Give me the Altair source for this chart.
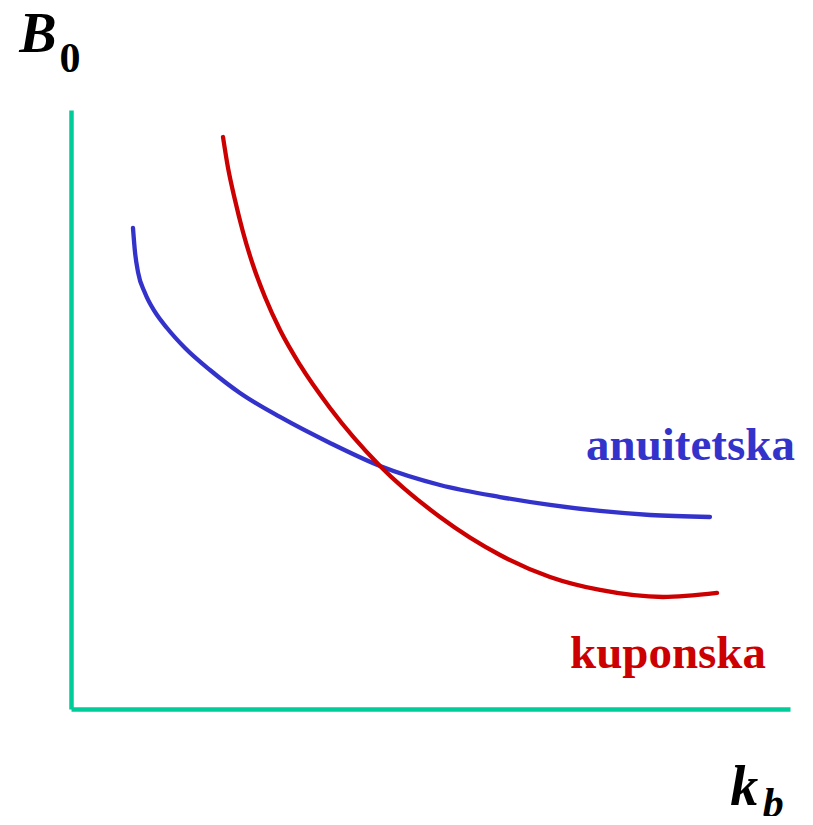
import altair as alt
import pandas as pd

# Curve values (abstract units: k_b on x, B0 on y)
anu_x = [0.862, 0.890, 0.932, 1.029, 1.168, 1.335, 1.586, 1.933, 2.350, 2.907,
         3.602, 4.298, 5.132, 5.967, 6.662, 7.357, 8.053, 8.887]
anu_y = [8.030, 7.629, 7.295, 6.945, 6.628, 6.361, 6.027, 5.659, 5.275, 4.875,
         4.441, 4.057, 3.740, 3.539, 3.406, 3.306, 3.239, 3.205]

kup_x = [2.114, 2.184, 2.281, 2.392, 2.531, 2.698, 2.907, 3.185, 3.602, 4.298,
         5.132, 5.967, 6.662, 7.357, 8.234, 8.985]
kup_y = [9.549, 9.032, 8.497, 7.963, 7.412, 6.878, 6.327, 5.743, 5.025, 4.057,
         3.205, 2.571, 2.204, 1.987, 1.870, 1.937]

series_names = ["anuitetska", "kuponska"]
series_colors = ["#3333CC", "#CC0000"]
axis_color = "#00CC99"

rows = []
for i, (x, y) in enumerate(zip(anu_x, anu_y)):
    rows.append({"x": x, "y": y, "s": series_names[0], "o": i})
for i, (x, y) in enumerate(zip(kup_x, kup_y)):
    rows.append({"x": x, "y": y, "s": series_names[1], "o": i})
df = pd.DataFrame(rows)

xs = alt.Scale(domain=[0, 10], nice=False, zero=False)
ys = alt.Scale(domain=[0, 10], nice=False, zero=False)

ax_x = alt.Axis(title=None, labels=False, ticks=False, grid=False,
                domainColor=axis_color, domainWidth=4.5)
ax_y = alt.Axis(title=None, labels=False, ticks=False, grid=False,
                domainColor=axis_color, domainWidth=4.5)

lines = alt.Chart(df).mark_line(strokeWidth=4.3, strokeCap="round",
                                interpolate="monotone", clip=False).encode(
    x=alt.X("x:Q", scale=xs, axis=ax_x),
    y=alt.Y("y:Q", scale=ys, axis=ax_y),
    color=alt.Color("s:N", scale=alt.Scale(domain=series_names, range=series_colors), legend=None),
    order="o:Q",
    detail="s:N",
)

# Series labels
lab_df = pd.DataFrame({
    "x": [7.163, 6.94],
    "y": [4.157, 0.684],
    "t": series_names,
})
labels = alt.Chart(lab_df).mark_text(
    font="Liberation Serif", fontWeight="bold", fontSize=47,
    align="left", baseline="alphabetic", clip=False,
).encode(
    x=alt.X("x:Q", scale=xs), y=alt.Y("y:Q", scale=ys), text="t:N",
    color=alt.Color("t:N", scale=alt.Scale(domain=series_names, range=series_colors), legend=None),
)

# Axis titles: main letters and subscripts
main_df = pd.DataFrame({"x": [-0.72, 9.17], "y": [10.96, -1.60], "t": ["B", "k"]})
sub_df = pd.DataFrame({"x": [-0.16, 9.62], "y": [10.64, -1.80], "t": ["0", "b"]})

main_txt = alt.Chart(main_df).mark_text(
    font="Liberation Serif", fontWeight="bold", fontStyle="italic", fontSize=56,
    align="left", baseline="alphabetic", color="black", clip=False,
).encode(x=alt.X("x:Q", scale=xs), y=alt.Y("y:Q", scale=ys), text="t:N")

sub0 = alt.Chart(sub_df.iloc[[0]]).mark_text(
    font="Liberation Serif", fontWeight="bold", fontSize=42,
    align="left", baseline="alphabetic", color="black", clip=False,
).encode(x=alt.X("x:Q", scale=xs), y=alt.Y("y:Q", scale=ys), text="t:N")

subb = alt.Chart(sub_df.iloc[[1]]).mark_text(
    font="Liberation Serif", fontWeight="bold", fontStyle="italic", fontSize=42,
    align="left", baseline="alphabetic", color="black", clip=False,
).encode(x=alt.X("x:Q", scale=xs), y=alt.Y("y:Q", scale=ys), text="t:N")

chart = alt.layer(lines, labels, main_txt, sub0, subb).properties(
    width=719, height=599,
    background="white",
    autosize=alt.AutoSizeParams(type="none"),
    padding={"left": 63, "top": 102, "right": 15, "bottom": 107},
).configure_view(strokeWidth=0, stroke=None)

chart.save("out.html", embed_options={"renderer": "svg", "actions": False})
